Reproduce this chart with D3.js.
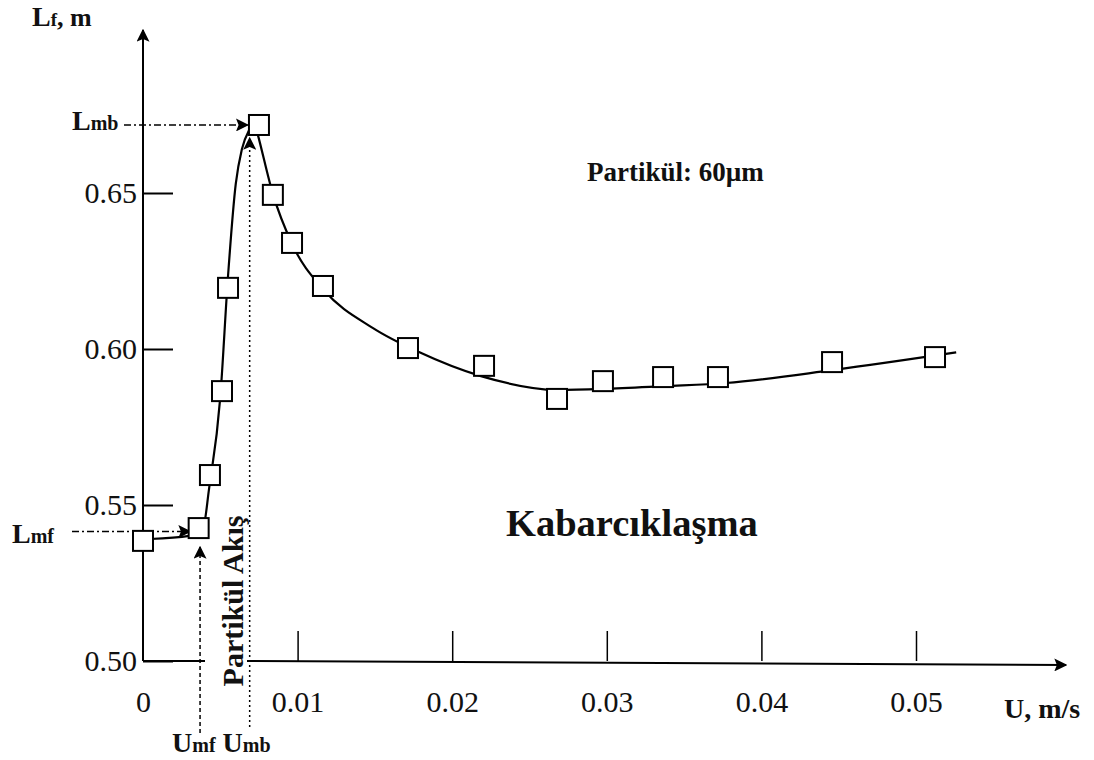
<!DOCTYPE html>
<html>
<head>
<meta charset="utf-8">
<script src="https://cdn.jsdelivr.net/npm/d3@7"></script>
<style>
  html, body { margin: 0; padding: 0; background: #fff; }
  svg { display: block; }
</style>
</head>
<body>
<div id="chart"></div>
<script>
// measured points (U in m/s, Lf in m)
const uData  = [0, 0.0036, 0.00433, 0.00511, 0.0055, 0.0075, 0.0084, 0.00964, 0.01164,
                0.01714, 0.02206, 0.02678, 0.02975, 0.03364, 0.03719, 0.04457, 0.05123];
const lfData = [0.5385, 0.5426, 0.5596, 0.5865, 0.6196, 0.6718, 0.6494, 0.634, 0.6202,
                0.6003, 0.5946, 0.584, 0.5897, 0.591, 0.591, 0.5958, 0.5974];

// hand drawn trend curve
const fitU  = [0.00045, 0.003, 0.0039, 0.00427, 0.005, 0.0055, 0.0060, 0.0064, 0.0069, 0.0072,
               0.0074, 0.0084, 0.00964, 0.0117, 0.01488, 0.01785, 0.02186, 0.02678, 0.02975,
               0.03376, 0.03771, 0.0447, 0.0526];
const fitLf = [0.5391, 0.5401, 0.5429, 0.5551, 0.5846, 0.6234, 0.6529, 0.6641, 0.6705, 0.6728,
               0.6692, 0.6497, 0.6337, 0.6189, 0.6067, 0.599, 0.5913, 0.5869, 0.5872,
               0.5881, 0.5891, 0.5933, 0.5989];

const xTicks = [0, 0.01, 0.02, 0.03, 0.04, 0.05];
const xTickLabels = ["0", "0.01", "0.02", "0.03", "0.04", "0.05"];
const yTicks = [0.50, 0.55, 0.60, 0.65];
const yTickLabels = ["0.50", "0.55", "0.60", "0.65"];

// reference levels used by the arrows
const uMf = 0.00369, uMb = 0.0069;
const lMf = 0.5415, lMb = 0.6718;

const width = 1094, height = 760;
const serif = "'Liberation Serif', 'Times New Roman', serif";

const x = d3.scaleLinear().domain([0, 0.05]).range([143, 916]);
const y = d3.scaleLinear().domain([0.5, 0.65]).range([661, 193]);

const svg = d3.select("#chart").append("svg")
  .attr("width", width).attr("height", height)
  .attr("viewBox", [0, 0, width, height]);

const defs = svg.append("defs");
defs.append("marker")
  .attr("id", "arrow")
  .attr("viewBox", "0 0 10 10")
  .attr("refX", 9).attr("refY", 5)
  .attr("markerWidth", 13).attr("markerHeight", 13)
  .attr("markerUnits", "userSpaceOnUse")
  .attr("orient", "auto")
  .append("path").attr("d", "M0,0L10,5L0,10L2,5Z").attr("fill", "#000");

// axes lines (custom, with arrows)
const x0 = x(0), yBase = y(0.5);
svg.append("line")
  .attr("x1", x0).attr("y1", yBase).attr("x2", x0).attr("y2", 30)
  .attr("stroke", "#000").attr("stroke-width", 2)
  .attr("marker-end", "url(#arrow)");
svg.append("line")
  .attr("x1", x0).attr("y1", yBase).attr("x2", 205).attr("y2", yBase)
  .attr("stroke", "#000").attr("stroke-width", 2);
svg.append("line")
  .attr("x1", 247).attr("y1", yBase).attr("x2", 1066).attr("y2", yBase + 4)
  .attr("stroke", "#000").attr("stroke-width", 2)
  .attr("marker-end", "url(#arrow)");

const xAxis = d3.axisBottom(x)
  .tickValues(xTicks)
  .tickFormat((d, i) => xTickLabels[i])
  .tickSizeInner(-30).tickSizeOuter(0).tickPadding(30);

svg.append("g")
  .attr("transform", `translate(0,${yBase})`)
  .call(xAxis)
  .call(g => g.select(".domain").remove())
  .call(g => g.selectAll(".tick line").attr("stroke-width", 1.5)
    .attr("display", d => d === 0 ? "none" : null))
  .call(g => g.selectAll(".tick text")
    .attr("font-family", serif).attr("font-size", 30).attr("fill", "#111"));

const yAxis = d3.axisLeft(y)
  .tickValues(yTicks)
  .tickFormat((d, i) => yTickLabels[i])
  .tickSizeInner(-30).tickSizeOuter(0).tickPadding(6);

svg.append("g")
  .attr("transform", `translate(${x0},0)`)
  .call(yAxis)
  .call(g => g.select(".domain").remove())
  .call(g => g.selectAll(".tick line").attr("stroke-width", 2))
  .call(g => g.selectAll(".tick text")
    .attr("font-family", serif).attr("font-size", 30).attr("fill", "#111"));

// trend curve
const line = d3.line()
  .x((d, i) => x(fitU[i]))
  .y((d, i) => y(fitLf[i]))
  .curve(d3.curveMonotoneX);

svg.append("path")
  .datum(fitU)
  .attr("d", line)
  .attr("fill", "none")
  .attr("stroke", "#000")
  .attr("stroke-width", 2.2);

// reference arrows
svg.append("line")
  .attr("x1", 124).attr("y1", y(lMb)).attr("x2", x(uMb) - 2).attr("y2", y(lMb))
  .attr("stroke", "#000").attr("stroke-width", 1.5)
  .attr("stroke-dasharray", "7,3,2,3")
  .attr("marker-end", "url(#arrow)");
svg.append("line")
  .attr("x1", 72).attr("y1", y(lMf)).attr("x2", x(uMf) - 10).attr("y2", y(lMf))
  .attr("stroke", "#000").attr("stroke-width", 1.5)
  .attr("stroke-dasharray", "7,3,2,3")
  .attr("marker-end", "url(#arrow)");
svg.append("line")
  .attr("x1", x(uMf)).attr("y1", 733).attr("x2", x(uMf)).attr("y2", 547)
  .attr("stroke", "#000").attr("stroke-width", 1.5)
  .attr("stroke-dasharray", "4,3")
  .attr("marker-end", "url(#arrow)");
svg.append("line")
  .attr("x1", x(uMb)).attr("y1", 727).attr("x2", x(uMb)).attr("y2", 138)
  .attr("stroke", "#000").attr("stroke-width", 1.5)
  .attr("stroke-dasharray", "2,3")
  .attr("marker-end", "url(#arrow)");

// measured points
svg.append("g")
  .selectAll("rect")
  .data(uData)
  .join("rect")
  .attr("x", (d) => x(d) - 10)
  .attr("y", (d, i) => y(lfData[i]) - 10)
  .attr("width", 20).attr("height", 20)
  .attr("fill", "#fff")
  .attr("stroke", "#000")
  .attr("stroke-width", 2);

// labels
function subLabel(px, py, parts) {
  const t = svg.append("text")
    .attr("x", px).attr("y", py)
    .attr("font-family", serif).attr("font-weight", "bold").attr("fill", "#111");
  parts.forEach(([s, fs]) => t.append("tspan").attr("font-size", fs).text(s));
  return t;
}
subLabel(32, 26, [["L", 28], ["f", 19], [", m", 26]]);
subLabel(72, 130, [["L", 28], ["mb", 20]]);
subLabel(12, 543, [["L", 28], ["mf", 20]]);
subLabel(172, 752, [["U", 28], ["mf", 20], [" U", 28], ["mb", 20]]);
subLabel(1004, 718, [["U, m/s", 28]]);

svg.append("text")
  .attr("transform", `translate(243,601) rotate(-90)`)
  .attr("text-anchor", "middle")
  .attr("font-family", serif).attr("font-weight", "bold")
  .attr("font-size", 30).attr("fill", "#111")
  .text("Partikül Akış");

svg.append("text")
  .attr("x", 587).attr("y", 181)
  .attr("font-family", serif).attr("font-weight", "bold")
  .attr("font-size", 27).attr("fill", "#111")
  .text("Partikül: 60µm");

svg.append("text")
  .attr("x", 506).attr("y", 536)
  .attr("font-family", serif).attr("font-weight", "bold")
  .attr("font-size", 38.5).attr("fill", "#111")
  .text("Kabarcıklaşma");
</script>
</body>
</html>
